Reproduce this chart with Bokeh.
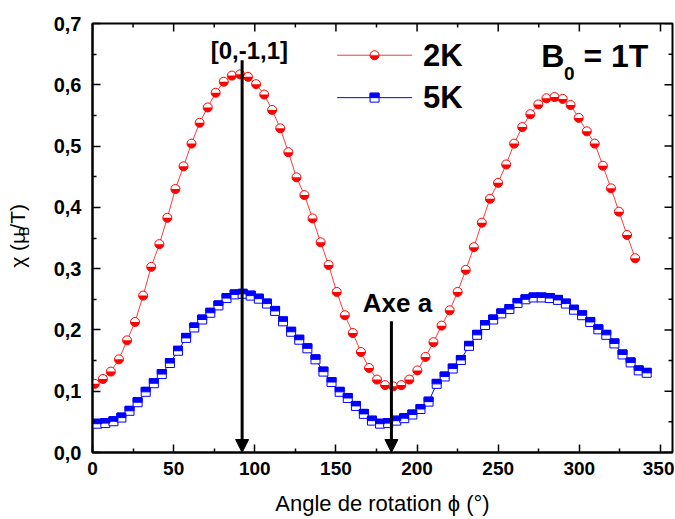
from math import pi
from bokeh.plotting import figure
from bokeh.layouts import row
from bokeh.models import (FixedTicker, CustomJSTickFormatter, Label,
                          Arrow, NormalHead, ColumnDataSource, Range1d)
from bokeh.transform import dodge
from bokeh.embed import file_html
from bokeh.resources import INLINE

# ---------------- data ----------------
angle_2k = [1.4, 6.4, 11.3, 16.3, 21.3, 26.2, 31.2, 36.2, 41.2, 46.1, 51.1, 56.1, 61.0, 66.0,
            71.0, 75.9, 80.9, 85.9, 90.9, 95.8, 100.8, 105.8, 110.7, 115.7, 120.7, 125.7, 130.6,
            135.6, 140.6, 145.5, 150.5, 155.5, 160.4, 165.4, 170.4, 175.3, 180.3, 185.3, 190.3,
            195.2, 200.2, 205.2, 210.1, 215.1, 220.1, 225.0, 230.0, 235.0, 239.9, 244.9, 249.9,
            254.9, 259.8, 264.8, 269.8, 274.7, 279.7, 284.7, 289.7, 294.6, 299.6, 304.6, 309.5,
            314.5, 319.5, 324.4, 329.4, 334.4]
chi_2k = [0.112, 0.120, 0.132, 0.152, 0.183, 0.213, 0.256, 0.303, 0.340, 0.383, 0.430, 0.467,
          0.504, 0.538, 0.563, 0.587, 0.605, 0.615, 0.617, 0.613, 0.601, 0.584, 0.559, 0.529,
          0.490, 0.449, 0.420, 0.382, 0.343, 0.306, 0.262, 0.224, 0.195, 0.164, 0.138, 0.119,
          0.110, 0.108, 0.110, 0.119, 0.134, 0.156, 0.180, 0.207, 0.232, 0.262, 0.298, 0.335,
          0.375, 0.414, 0.440, 0.470, 0.504, 0.531, 0.552, 0.568, 0.578, 0.580, 0.577, 0.567,
          0.546, 0.524, 0.504, 0.468, 0.431, 0.393, 0.355, 0.317]

angle_5k = [2.9, 7.9, 12.9, 17.8, 22.8, 27.8, 32.8, 37.8, 42.7, 47.7, 52.7, 57.7, 62.7, 67.6,
            72.6, 77.6, 82.6, 87.6, 92.5, 97.5, 102.5, 107.5, 112.5, 117.4, 122.4, 127.4, 132.4,
            137.4, 142.3, 147.3, 152.3, 157.3, 162.3, 167.2, 172.2, 177.2, 182.2, 187.2, 192.1,
            197.1, 202.1, 207.1, 212.1, 217.0, 222.0, 227.0, 232.0, 237.0, 241.9, 246.9, 251.9,
            256.9, 261.9, 266.8, 271.8, 276.8, 281.8, 286.8, 291.7, 296.7, 301.7, 306.7, 311.7,
            316.6, 321.6, 326.6, 331.6, 336.6, 341.5]
chi_5k = [0.047, 0.048, 0.051, 0.057, 0.068, 0.082, 0.099, 0.113, 0.128, 0.146, 0.166, 0.187,
          0.204, 0.217, 0.228, 0.240, 0.252, 0.258, 0.259, 0.256, 0.251, 0.243, 0.231, 0.214,
          0.197, 0.184, 0.170, 0.152, 0.132, 0.115, 0.099, 0.089, 0.076, 0.063, 0.052, 0.047,
          0.048, 0.052, 0.056, 0.062, 0.071, 0.083, 0.112, 0.124, 0.137, 0.151, 0.174, 0.192,
          0.208, 0.217, 0.227, 0.234, 0.244, 0.250, 0.253, 0.253, 0.252, 0.249, 0.243, 0.233,
          0.224, 0.213, 0.201, 0.192, 0.178, 0.160, 0.147, 0.134, 0.130]

series_names = ["2K", "5K"]
x_ticks = [0, 50, 100, 150, 200, 250, 300, 350]
x_minor_ticks = [25, 75, 125, 175, 225, 275, 325]
y_ticks = [0.0, 0.1, 0.2, 0.3, 0.4, 0.5, 0.6, 0.7]
y_minor_ticks = [0.05, 0.15, 0.25, 0.35, 0.45, 0.55, 0.65]

arrow_names = ["[0,-1,1]", "Axe a"]
arrow_x = [92.2, 184.2]
arrow_top = [0.640, 0.214]
field_text = ["B", "0", "= 1T"]
x_title = "Angle de rotation \u03d5 (\u00b0)"
y_title_parts = ["\u03c7 (\u03bc", "B", "/T)"]

# ---------------- style ----------------
FONT = "Liberation Sans"
RED = "#ff0000"
RED_LINE = "#ff3b3b"
BLUE = "#0000ff"
MSIZE = 9
HALF_SQ = 0.00365   # a quarter of the marker height, in y units
X0, X1, Y0, Y1 = 0, 357.4, 0.0, 0.7

p = figure(width=634, height=518, x_range=Range1d(X0, X1), y_range=Range1d(Y0, Y1),
           output_backend="svg", toolbar_location=None,
           min_border_left=52, min_border_right=2, min_border_top=23, min_border_bottom=63)
p.background_fill_color = "white"
p.border_fill_color = "white"
p.outline_line_color = "black"
p.outline_line_width = 2
p.xgrid.visible = False
p.ygrid.visible = False

xa = p.xaxis[0]
ya = p.yaxis[0]
xa.ticker = FixedTicker(ticks=x_ticks, minor_ticks=x_minor_ticks)
ya.ticker = FixedTicker(ticks=y_ticks, minor_ticks=y_minor_ticks)
ya.formatter = CustomJSTickFormatter(code="return tick.toFixed(1).replace('.', ',');")
for ax in (xa, ya):
    ax.axis_line_width = 2
    ax.axis_line_color = "black"
    ax.major_tick_in = 8
    ax.major_tick_out = 0
    ax.minor_tick_in = 4
    ax.minor_tick_out = 0
    ax.major_tick_line_width = 1.5
    ax.minor_tick_line_width = 1.5
    ax.major_tick_line_color = "black"
    ax.minor_tick_line_color = "black"
    ax.major_label_text_font = FONT
    ax.major_label_text_font_style = "bold"
    ax.major_label_text_color = "black"
xa.major_label_text_font_size = "19px"
ya.major_label_text_font_size = "20px"
xa.major_label_standoff = 9
ya.major_label_standoff = 11
xa.axis_label = x_title
xa.axis_label_text_font = FONT
xa.axis_label_text_font_style = "normal"
xa.axis_label_text_font_size = "22px"
xa.axis_label_text_color = "black"
xa.axis_label_standoff = 13

# inward ticks on the top and right edges (half of each dash is clipped by the frame)
p.scatter(x_ticks, [Y1] * len(x_ticks), marker="dash", angle=pi / 2, size=16,
          line_color="black", line_width=1.5)
p.scatter(x_minor_ticks, [Y1] * len(x_minor_ticks), marker="dash", angle=pi / 2, size=8,
          line_color="black", line_width=1.5)
p.scatter([X1] * len(y_ticks), y_ticks, marker="dash", size=16,
          line_color="black", line_width=1.5)
p.scatter([X1] * len(y_minor_ticks), y_minor_ticks, marker="dash", size=8,
          line_color="black", line_width=1.5)

# ---------------- series ----------------
s2 = ColumnDataSource(dict(x=angle_2k, y=chi_2k))
s5 = ColumnDataSource(dict(x=angle_5k, y=chi_5k))

p.line("x", "y", source=s2, line_color=RED_LINE, line_width=1)
p.scatter("x", "y", source=s2, marker="circle", size=MSIZE, fill_color="white",
          line_color=RED, line_width=1)
p.wedge("x", "y", source=s2, radius=MSIZE / 2, radius_units="screen",
        start_angle=pi, end_angle=2 * pi, fill_color=RED, line_color=None)

p.line("x", "y", source=s5, line_color=BLUE, line_width=1)
p.scatter("x", "y", source=s5, marker="square", size=MSIZE, fill_color="white",
          line_color=BLUE, line_width=1)
p.rect("x", dodge("y", HALF_SQ, range=p.y_range), source=s5, width=MSIZE, height=MSIZE / 2,
       width_units="screen", height_units="screen", fill_color=BLUE, line_color=BLUE,
       line_width=1)

# ---------------- legend (drawn by hand for half-filled symbols) ----------------
leg_x0, leg_x1, leg_xm = 150.8, 197.0, 173.8
leg_y = [0.6482, 0.579]
leg_text_x = 203.6
l2 = ColumnDataSource(dict(x=[leg_xm], y=[leg_y[0]]))
l5 = ColumnDataSource(dict(x=[leg_xm], y=[leg_y[1]]))
p.line([leg_x0, leg_x1], [leg_y[0], leg_y[0]], line_color=RED_LINE, line_width=1)
p.scatter("x", "y", source=l2, marker="circle", size=MSIZE, fill_color="white",
          line_color=RED, line_width=1)
p.wedge("x", "y", source=l2, radius=MSIZE / 2, radius_units="screen",
        start_angle=pi, end_angle=2 * pi, fill_color=RED, line_color=None)
p.line([leg_x0, leg_x1], [leg_y[1], leg_y[1]], line_color=BLUE, line_width=1)
p.scatter("x", "y", source=l5, marker="square", size=MSIZE, fill_color="white",
          line_color=BLUE, line_width=1)
p.rect("x", dodge("y", HALF_SQ, range=p.y_range), source=l5, width=MSIZE, height=MSIZE / 2,
       width_units="screen", height_units="screen", fill_color=BLUE, line_color=BLUE,
       line_width=1)
for name, yy in zip(series_names, leg_y):
    p.add_layout(Label(x=leg_text_x, y=yy, text=name, text_font=FONT,
                       text_font_size="31px", text_font_style="bold",
                       text_baseline="middle", text_align="left", text_color="black"))

# ---------------- B0 = 1T ----------------
p.add_layout(Label(x=276.5, y=0.6469, text=field_text[0], text_font=FONT, text_font_size="32px",
                   text_font_style="bold", text_baseline="middle", text_align="left",
                   text_color="black"))
p.add_layout(Label(x=290.5, y=0.6185, text=field_text[1], text_font=FONT, text_font_size="19px",
                   text_font_style="bold", text_baseline="middle", text_align="left",
                   text_color="black"))
p.add_layout(Label(x=302.5, y=0.6469, text=field_text[2], text_font=FONT, text_font_size="32px",
                   text_font_style="bold", text_baseline="middle", text_align="left",
                   text_color="black"))

# ---------------- arrows ----------------
for xx, ytop in zip(arrow_x, arrow_top):
    p.add_layout(Arrow(end=NormalHead(size=13, fill_color="black", line_color="black"),
                       x_start=xx, y_start=ytop, x_end=xx, y_end=0.0,
                       line_width=3, line_color="black"))
p.add_layout(Label(x=96.7, y=0.6563, text=arrow_names[0], text_font=FONT, text_font_size="24px",
                   text_font_style="bold", text_baseline="middle", text_align="center",
                   text_color="black"))
p.add_layout(Label(x=187.9, y=0.2439, text=arrow_names[1], text_font=FONT, text_font_size="26px",
                   text_font_style="bold", text_baseline="middle", text_align="center",
                   text_color="black"))

# ---------------- y-axis title (own narrow canvas, pixel units) ----------------
lf = figure(width=40, height=518, x_range=Range1d(0, 40), y_range=Range1d(0, 518),
            output_backend="svg", toolbar_location=None, x_axis_location=None,
            y_axis_location=None, min_border=0)
lf.outline_line_color = None
lf.xgrid.visible = False
lf.ygrid.visible = False
lf.background_fill_color = "white"
lf.border_fill_color = "white"
ylab_pos = [(16.5, 244.7, "21px"), (23.0, 267.0, "14px"), (16.5, 284.6, "21px")]
for t, (xx, yy, fs) in zip(y_title_parts, ylab_pos):
    lf.add_layout(Label(x=xx, y=yy, text=t, text_font=FONT, text_font_size=fs, angle=pi / 2,
                        text_baseline="middle", text_align="center", text_color="black"))

open("out.html", "w").write(file_html(row(lf, p), INLINE))
